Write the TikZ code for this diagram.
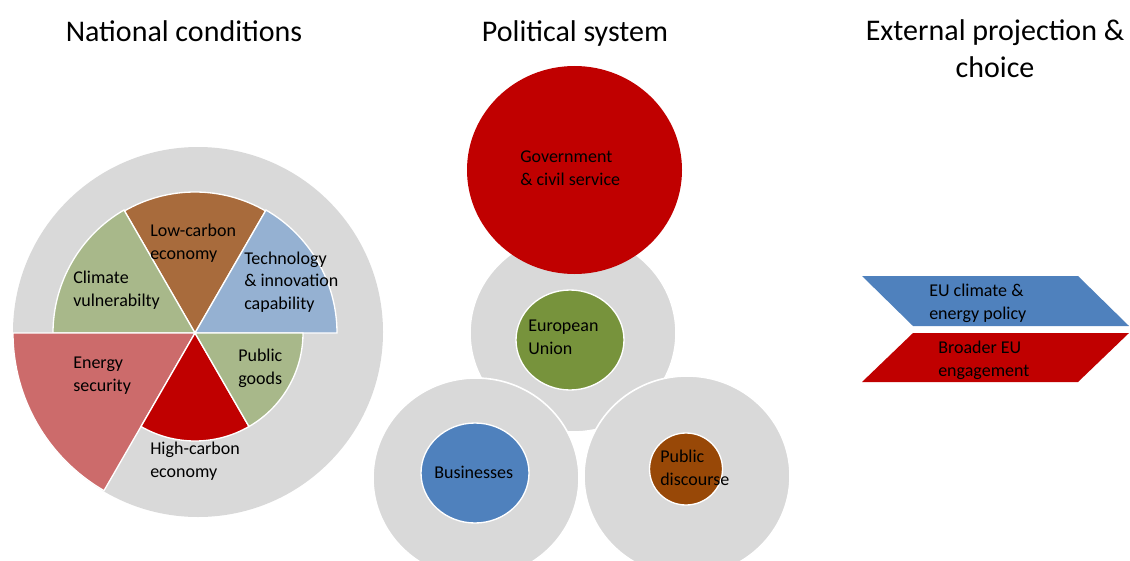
\documentclass[tikz,border=0pt]{standalone}
\usepackage{fontspec}
\setmainfont{Carlito}
\usepackage{tikz}
\usetikzlibrary{positioning}

\definecolor{ringgray}{HTML}{D9D9D9}
\definecolor{govred}{HTML}{C00000}
\definecolor{energyred}{HTML}{CC6B6B}
\definecolor{lowbrown}{HTML}{A86B3C}
\definecolor{techblue}{HTML}{95B1D2}
\definecolor{softgreen}{HTML}{A8B88A}
\definecolor{eugreen}{HTML}{77933C}
\definecolor{bizblue}{HTML}{4F81BD}
\definecolor{discbrown}{HTML}{984807}

\begin{document}
\begin{tikzpicture}[
    x=0.75pt,
    y=-0.75pt,
    font=\fontsize{13.5}{17}\selectfont
]

\tikzstyle{tag}=[
    inner sep=0pt,
    anchor=west,
    align=left
]
\tikzstyle{heading}=[
    inner sep=0pt,
    align=center,
    font=\fontsize{22.5}{27.75}\selectfont
]
\tikzstyle{ring}=[fill=ringgray, draw=white, line width=1.2pt]
\tikzstyle{slice}=[draw=white, line width=1pt]
\tikzstyle{core}=[draw=white, line width=1pt]

\useasboundingbox (0,0) rectangle (1130,560);

% headings
\node[heading, anchor=base] (hnat) at (184,41) {National conditions};
\node[heading, anchor=base] (hpol) at (575,41) {Political system};
\node[heading] (hext) at (995,48.5) {External projection \&\\choice};

% national conditions
\fill[ringgray] (198,332) circle[radius=185];
\coordinate (pc) at (195,333);
\begin{scope}[shift={(pc)}, x=0.75pt, y=0.75pt]
    \filldraw[slice, fill=lowbrown] (0,0) -- (60:141) arc[start angle=60, end angle=120, radius=141] -- cycle;
    \filldraw[slice, fill=techblue] (0,0) -- (0:142) arc[start angle=0, end angle=60, radius=142] -- cycle;
    \filldraw[slice, fill=softgreen] (0,0) -- (120:142) arc[start angle=120, end angle=180, radius=142] -- cycle;
    \filldraw[slice, fill=energyred] (0,0) -- (180:182) arc[start angle=180, end angle=240, radius=182] -- cycle;
    \filldraw[slice, fill=govred] (0,0) -- (240:108) arc[start angle=240, end angle=300, radius=108] -- cycle;
    \filldraw[slice, fill=softgreen] (0,0) -- (300:108) arc[start angle=300, end angle=360, radius=108] -- cycle;
\end{scope}

\node[tag] (low) at (150,243) {Low-carbon\\economy};
\node[tag] (clim) at (73,290) {Climate\\vulnerabilty};
\node[tag] (tech) at (244,282) {Technology\\\& innovation\\capability};
\node[tag] (pub) at (238,368) {Public\\goods};
\node[tag] (ener) at (73,375.5) {Energy\\security};
\node[tag] (high) at (150,461) {High-carbon\\economy};

% political system
\filldraw[ring] (573,333) ellipse[x radius=103, y radius=99];
\filldraw[ring] (476,478) ellipse[x radius=103, y radius=100];
\filldraw[ring] (687,476) ellipse[x radius=103, y radius=100];
\filldraw[core, fill=eugreen] (570,340) ellipse[x radius=54, y radius=50];
\filldraw[core, fill=bizblue] (475,473) ellipse[x radius=54, y radius=50];
\filldraw[core, fill=discbrown] (686,469) ellipse[x radius=36.5, y radius=36];
\fill[govred] (574.5,170) ellipse[x radius=107.5, y radius=104];

\node[tag] (gov) at (520,168) {Government\\\& civil service};
\node[tag] (eu) at (528,337.5) {European\\Union};
\node[tag] (biz) at (434,472) {Businesses};
\node[tag] (disc) at (660,468) {Public\\discourse};

% external projection
\fill[bizblue] (862,276) -- (1078,276) -- (1129,326) -- (913,326) -- cycle;
\fill[govred] (913,333) -- (1129,333) -- (1078,382) -- (862,382) -- cycle;

\node[tag] (clpol) at (929,303) {EU climate \&\\energy policy};
\node[tag] (broad) at (938,360) {Broader EU\\engagement};

\end{tikzpicture}
\end{document}
